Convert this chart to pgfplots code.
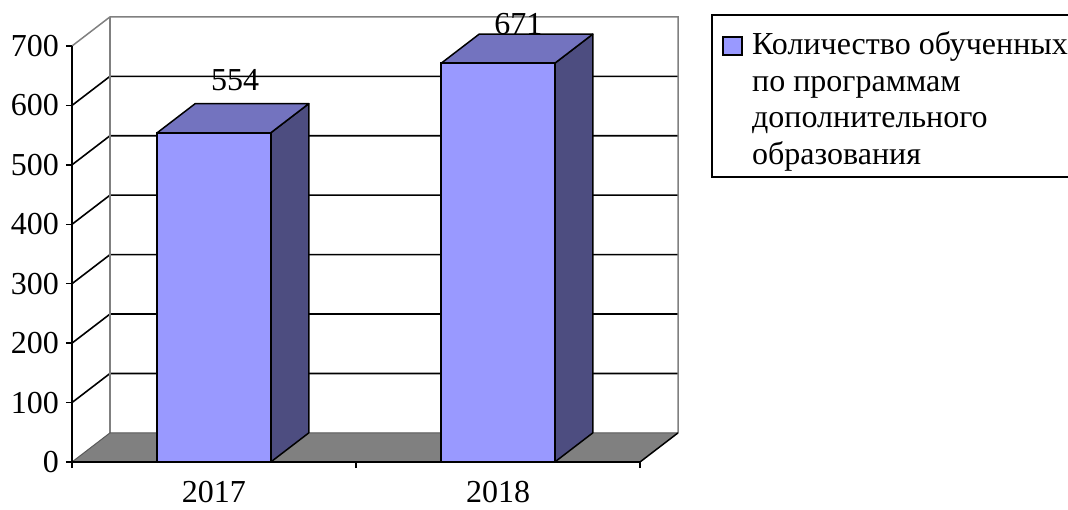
\documentclass[border=0pt]{standalone}
\usepackage{pgfplots}
\pgfplotsset{compat=1.18}
\usepackage{fontspec}
\setmainfont{Liberation Serif}
\definecolor{barfront}{HTML}{9999FF}
\definecolor{bartop}{HTML}{7373BF}
\definecolor{barside}{HTML}{4D4D80}
\definecolor{floorgray}{HTML}{808080}
\newcommand{\bigfont}{\fontsize{32}{37}\selectfont}
\begin{document}
\begin{tikzpicture}
\path[use as bounding box] (-72pt,-47pt) rectangle (996pt,462pt);
\begin{axis}[
  at={(0pt,0pt)}, anchor=south west,
  scale only axis, width=568pt, height=416pt,
  xmin=0, xmax=2, ymin=0, ymax=700,
  clip=false, axis on top,
  axis x line*=bottom, axis y line*=left,
  axis line style={line width=1.5pt, -},
  ytick={0,100,...,700},
  xtick={0,1,2}, xticklabels={},
  extra x ticks={0.5,1.5}, extra x tick labels={2017,2018},
  extra x tick style={major tick length=0pt},
  tick align=outside, major tick length=6pt,
  tick style={line width=1.5pt, black},
  every tick label/.append style={font=\bigfont},
  yticklabel style={anchor=east, inner sep=0pt, xshift=-7pt},
  xticklabel style={anchor=north, inner sep=0pt, yshift=-19pt},
  /pgf/number format/assume math mode=true,
]
% back wall gridlines
\draw[line width=1.6pt] (axis cs:0,100) -- (axis cs:0.1338,149) -- (axis cs:2.1338,149);
\draw[line width=1.6pt] (axis cs:0,200) -- (axis cs:0.1338,249) -- (axis cs:2.1338,249);
\draw[line width=1.6pt] (axis cs:0,300) -- (axis cs:0.1338,349) -- (axis cs:2.1338,349);
\draw[line width=1.6pt] (axis cs:0,400) -- (axis cs:0.1338,449) -- (axis cs:2.1338,449);
\draw[line width=1.6pt] (axis cs:0,500) -- (axis cs:0.1338,549) -- (axis cs:2.1338,549);
\draw[line width=1.6pt] (axis cs:0,600) -- (axis cs:0.1338,649) -- (axis cs:2.1338,649);
% wall border
\draw[floorgray, line width=1.5pt] (axis cs:0,700) -- (axis cs:0.1338,749) -- (axis cs:2.1338,749) -- (axis cs:2.1338,49);
\draw[floorgray, line width=1.5pt] (axis cs:0.1338,49) -- (axis cs:0.1338,749);
% floor
\addplot[fill=floorgray, draw=none] coordinates {(0,0) (2,0) (2.1338,49) (0.1338,49)} --cycle;
\draw[gray!70!black, line width=1pt] (axis cs:0,0) -- (axis cs:0.1338,49) -- (axis cs:2.1338,49);
\draw[line width=1.5pt] (axis cs:2,0) -- (axis cs:2.1338,49);
% value labels
\node[font=\bigfont] at (axis cs:0.574,643) {554};
\node[font=\bigfont] at (axis cs:1.572,737) {671};
% bar 2017 (554)
\addplot[fill=barside, draw=black, line width=1.5pt, line join=round] coordinates {(0.7,0) (0.8338,49) (0.8338,603) (0.7,554)} --cycle;
\addplot[fill=bartop, draw=black, line width=1.5pt, line join=round] coordinates {(0.3,554) (0.7,554) (0.8338,603) (0.4338,603)} --cycle;
% bar 2018 (671)
\addplot[fill=barside, draw=black, line width=1.5pt, line join=round] coordinates {(1.7,0) (1.8338,49) (1.8338,720) (1.7,671)} --cycle;
\addplot[fill=bartop, draw=black, line width=1.5pt, line join=round] coordinates {(1.3,671) (1.7,671) (1.8338,720) (1.4338,720)} --cycle;
% front faces
\addplot[ybar, bar width=0.4, fill=barfront, draw=black, line width=1.5pt] coordinates {(0.5,554) (1.5,671)};
\end{axis}
% legend
\draw[line width=1.5pt] (1000pt,447pt) -- (640pt,447pt) -- (640pt,285pt) -- (1000pt,285pt);
\draw[fill=barfront, line width=1.2pt] (651pt,407pt) rectangle (670pt,425pt);
\node[anchor=base west, inner sep=0pt, font=\bigfont] at (680pt,407pt) {Количество обученных};
\node[anchor=base west, inner sep=0pt, font=\bigfont] at (680pt,370pt) {по программам};
\node[anchor=base west, inner sep=0pt, font=\bigfont] at (680pt,334pt) {дополнительного};
\node[anchor=base west, inner sep=0pt, font=\bigfont] at (680pt,297pt) {образования};
\end{tikzpicture}
\end{document}
